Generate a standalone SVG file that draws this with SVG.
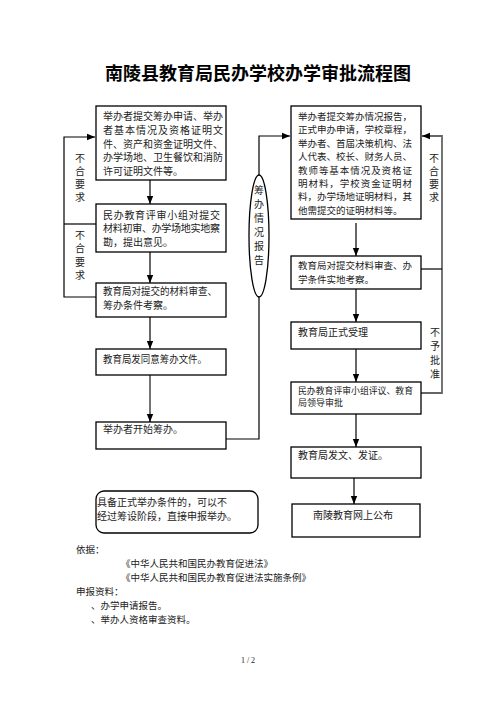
<svg xmlns="http://www.w3.org/2000/svg" width="496" height="702" viewBox="0 0 496 702">
<defs>
<marker id="ah" markerUnits="userSpaceOnUse" markerWidth="8" markerHeight="8" viewBox="0 0 8 8" refX="8" refY="4" orient="auto">
<path d="M0,0.8 L8,4 L0,7.2 Z" fill="#000"/>
</marker>
<style>
.box{fill:#fff;stroke:#000;stroke-width:1.3}
.ln{fill:none;stroke:#000;stroke-width:1.2}
.gl{fill:none;stroke:#666;stroke-width:1.8}
.t{font-family:"Liberation Serif","Noto Sans CJK SC",serif;font-size:10px;fill:#222}
.s{font-family:"Liberation Serif","Noto Sans CJK SC",serif;font-size:9.5px;fill:#222}
.v{font-family:"Liberation Serif","Noto Sans CJK SC",serif;font-size:10px;fill:#222;text-anchor:middle}
.title{font-family:"Noto Sans CJK SC",sans-serif;font-size:18px;font-weight:bold;fill:#000;text-anchor:middle}
</style>
</defs>
<rect width="496" height="702" fill="#fff"/>
<text class="title" x="258" y="80">南陵县教育局民办学校办学审批流程图</text>

<g id="connectors">
<polyline class="ln" points="96,297 64,297 64,137 95,137" marker-end="url(#ah)"/>
<line class="ln" x1="96" y1="224" x2="64" y2="224"/>
<line class="ln" x1="150" y1="180" x2="150" y2="204" marker-end="url(#ah)"/>
<line class="ln" x1="150" y1="252" x2="150" y2="283" marker-end="url(#ah)"/>
<line class="ln" x1="150" y1="317" x2="150" y2="349" marker-end="url(#ah)"/>
<line class="gl" x1="150" y1="375" x2="150" y2="416"/>
<line class="ln" x1="150" y1="414" x2="150" y2="422" marker-end="url(#ah)"/>
<polyline class="ln" points="226,439 259,439 259,297"/>
<polyline class="ln" points="259,175 259,136 290,136" marker-end="url(#ah)"/>
<line class="ln" x1="356" y1="223" x2="356" y2="256" marker-end="url(#ah)"/>
<line class="ln" x1="356" y1="289" x2="356" y2="322" marker-end="url(#ah)"/>
<line class="ln" x1="356" y1="349" x2="356" y2="382" marker-end="url(#ah)"/>
<line class="ln" x1="356" y1="414" x2="356" y2="447" marker-end="url(#ah)"/>
<line class="ln" x1="354" y1="478" x2="354" y2="504" marker-end="url(#ah)"/>
<polyline class="gl" points="421,393 442,393 442,136 428,136"/>
<line class="ln" x1="430" y1="136" x2="422" y2="136" marker-end="url(#ah)"/>
<line class="ln" x1="421" y1="269" x2="442" y2="269"/>
<text class="v" x="80" y="162">不</text>
<text class="v" x="80" y="175">合</text>
<text class="v" x="80" y="188">要</text>
<text class="v" x="80" y="201">求</text>
<text class="v" x="80" y="239">不</text>
<text class="v" x="80" y="252">合</text>
<text class="v" x="80" y="266">要</text>
<text class="v" x="80" y="279">求</text>
<text class="v" x="434" y="162">不</text>
<text class="v" x="434" y="175">合</text>
<text class="v" x="434" y="188">要</text>
<text class="v" x="434" y="201">求</text>
<text class="v" x="435" y="336">不</text>
<text class="v" x="435" y="350">予</text>
<text class="v" x="435" y="364">批</text>
<text class="v" x="435" y="378">准</text>
</g>

<g id="n1">
<rect class="box" x="96" y="106" width="130" height="74"/>
<text class="t" x="103" y="120" textLength="120" lengthAdjust="spacing">举办者提交筹办申请、举办</text>
<text class="t" x="103" y="134" textLength="120" lengthAdjust="spacing">者基本情况及资格证明文</text>
<text class="t" x="103" y="147.5" textLength="120" lengthAdjust="spacing">件、资产和资金证明文件、</text>
<text class="t" x="103" y="161" textLength="120" lengthAdjust="spacing">办学场地、卫生餐饮和消防</text>
<text class="t" x="103" y="174.5">许可证明文件等。</text>
</g>
<g id="n2">
<rect class="box" x="96" y="204" width="130" height="48"/>
<text class="t" x="103" y="219" textLength="117" lengthAdjust="spacing">民办教育评审小组对提交</text>
<text class="t" x="103" y="232" textLength="117" lengthAdjust="spacing">材料初审、办学场地实地察</text>
<text class="t" x="103" y="246">勘，提出意见。</text>
</g>
<g id="n3">
<rect class="box" x="96" y="283" width="130" height="34"/>
<text class="t" x="103" y="295" textLength="114" lengthAdjust="spacingAndGlyphs">教育局对提交的材料审查、</text>
<text class="t" x="103" y="309">筹办条件考察。</text>
</g>
<g id="n4">
<rect class="box" x="96" y="349" width="130" height="26"/>
<text class="t" x="103" y="363" textLength="104" lengthAdjust="spacingAndGlyphs">教育局发同意筹办文件。</text>
</g>
<g id="n5">
<rect class="box" x="96" y="422" width="130" height="27"/>
<text class="t" x="103" y="433">举办者开始筹办。</text>
</g>
<g id="n6">
<ellipse class="box" cx="259" cy="236" rx="10" ry="61"/>
<text class="v" x="259" y="194">筹</text>
<text class="v" x="259" y="208">办</text>
<text class="v" x="259" y="222">情</text>
<text class="v" x="259" y="236">况</text>
<text class="v" x="259" y="250">报</text>
<text class="v" x="259" y="264">告</text>
</g>
<g id="n7">
<rect class="box" x="291" y="106" width="130" height="113"/>
<text class="s" x="298" y="120" textLength="114" lengthAdjust="spacingAndGlyphs">举办者提交筹办情况报告，</text>
<text class="s" x="298" y="133.4" textLength="114" lengthAdjust="spacingAndGlyphs">正式申办申请，学校章程，</text>
<text class="s" x="298" y="146.8" textLength="114" lengthAdjust="spacingAndGlyphs">举办者、首届决策机构、法</text>
<text class="s" x="298" y="160.2" textLength="114" lengthAdjust="spacingAndGlyphs">人代表、校长、财务人员、</text>
<text class="s" x="298" y="173.6" textLength="114" lengthAdjust="spacing">教师等基本情况及资格证</text>
<text class="s" x="298" y="187" textLength="114" lengthAdjust="spacing">明材料，学校资金证明材</text>
<text class="s" x="298" y="200.4" textLength="114" lengthAdjust="spacingAndGlyphs">料，办学场地证明材料，其</text>
<text class="s" x="298" y="213.8">他需提交的证明材料等。</text>
</g>
<g id="n8">
<rect class="box" x="291" y="256" width="130" height="33"/>
<text class="s" x="298" y="269" textLength="114" lengthAdjust="spacingAndGlyphs">教育局对提交材料审查、办</text>
<text class="s" x="298" y="283">学条件实地考察。</text>
</g>
<g id="n9">
<rect class="box" x="291" y="322" width="130" height="27"/>
<text class="t" x="298" y="336">教育局正式受理</text>
</g>
<g id="n10">
<rect class="box" x="291" y="382" width="130" height="32"/>
<text class="t" x="298" y="393.5" style="font-size:9px" textLength="115" lengthAdjust="spacingAndGlyphs">民办教育评审小组评议、教育</text>
<text class="t" x="298" y="405.5" style="font-size:9px">局领导审批</text>
</g>
<g id="n11">
<rect class="box" x="291" y="447" width="130" height="31"/>
<text class="t" x="298" y="459">教育局发文、发证。</text>
</g>
<g id="n12">
<rect class="box" x="292" y="504" width="128" height="33"/>
<text class="t" x="353" y="519" text-anchor="middle">南陵教育网上公布</text>
</g>
<g id="n13">
<rect class="box" x="96" y="491" width="162" height="42" rx="8" ry="8"/>
<text class="t" x="97" y="506">具备正式举办条件的，可以不</text>
<text class="t" x="97" y="520">经过筹设阶段，直接申报举办。</text>
</g>

<g id="notes">
<text class="s" x="76" y="553">依据：</text>
<text class="s" x="121" y="567">《中华人民共和国民办教育促进法》</text>
<text class="s" x="121" y="581">《中华人民共和国民办教育促进法实施条例》</text>
<text class="s" x="76" y="595">申报资料：</text>
<text class="s" x="91" y="609">、办学申请报告。</text>
<text class="s" x="91" y="623">、举办人资格审查资料。</text>
<text class="s" x="248" y="663" text-anchor="middle" style="font-size:8px">1 / 2</text>
</g>
</svg>
